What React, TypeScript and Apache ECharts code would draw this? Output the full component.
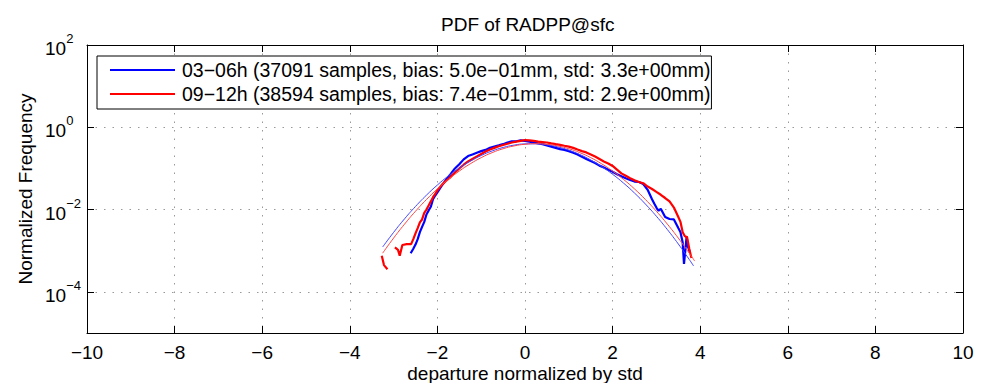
import React, { useEffect, useRef } from 'react';
import * as echarts from 'echarts';

const FONT = '"Liberation Sans", Arial, Helvetica, sans-serif';
const TITLE = 'PDF of RADPP@sfc';
const X_NAME = 'departure normalized by std';
const Y_NAME = 'Normalized Frequency';
const SERIES_NAMES = [
  '03−06h (37091 samples, bias: 5.0e−01mm, std: 3.3e+00mm)',
  '09−12h (38594 samples, bias: 7.4e−01mm, std: 2.9e+00mm)',
];
const Y_TICKS = [1e-4, 1e-2, 1, 100];

// 03-06h empirical PDF
const blueX = [
  -2.61, -2.55, -2.5, -2.45, -2.4, -2.35, -2.3, -2.25, -2.2, -2.15, -2.1, -2.05, -2.0,
  -1.9, -1.8, -1.7, -1.6, -1.5, -1.4, -1.3, -1.2, -1.1, -1.0, -0.9, -0.8, -0.7, -0.6,
  -0.5, -0.4, -0.3, -0.2, -0.1, 0.0, 0.1, 0.2, 0.3, 0.4, 0.5, 0.6, 0.7, 0.8, 0.9, 1.0,
  1.1, 1.2, 1.3, 1.4, 1.5, 1.6, 1.7, 1.8, 1.9, 2.0, 2.1, 2.2, 2.3, 2.4, 2.5, 2.6, 2.7,
  2.8, 2.9, 2.95, 3.0, 3.05, 3.1, 3.2, 3.3, 3.4, 3.5, 3.55, 3.6, 3.63, 3.66, 3.69, 3.72, 3.77,
];
const blueY = [
  8.71e-4, 1.12e-3, 1.41e-3, 1.91e-3, 2.82e-3, 3.8e-3, 5.01e-3, 7.59e-3, 9.55e-3, 1.17e-2, 1.78e-2, 2.19e-2, 2.63e-2,
  3.8e-2, 5.37e-2, 7.24e-2, 0.1, 0.126, 0.166, 0.2, 0.219, 0.24, 0.263, 0.282, 0.316, 0.339, 0.363,
  0.389, 0.427, 0.457, 0.457, 0.479, 0.468, 0.447, 0.427, 0.407, 0.389, 0.363, 0.339, 0.316, 0.295, 0.282, 0.263,
  0.24, 0.219, 0.191, 0.17, 0.151, 0.135, 0.117, 0.105, 0.0933, 0.0832, 0.0724, 0.0646, 0.0575, 0.0525, 0.0479, 0.0468, 0.0417,
  0.0302, 0.0178, 0.0141, 0.0112, 0.00933, 0.0105, 0.00661, 0.00589, 0.00575, 0.00355, 0.00282, 0.00158, 0.000479, 0.001, 0.00224, 0.00126, 0.000891,
];

// 09-12h empirical PDF (null = empty bin)
const redX = [
  -3.27, -3.22, -3.14, -3.05, -2.97, -2.9, -2.86, -2.8, -2.7, -2.6, -2.55, -2.5, -2.45, -2.4, -2.35,
  -2.3, -2.25, -2.2, -2.15, -2.1, -2.05, -2.0, -1.9, -1.8, -1.7, -1.6, -1.5, -1.4, -1.3, -1.2,
  -1.1, -1.0, -0.9, -0.8, -0.7, -0.6, -0.5, -0.4, -0.3, -0.2, -0.1, 0.0, 0.1, 0.2, 0.3, 0.4,
  0.5, 0.6, 0.7, 0.8, 0.9, 1.0, 1.1, 1.2, 1.3, 1.4, 1.5, 1.6, 1.7, 1.8, 1.9, 2.0, 2.1, 2.2,
  2.3, 2.4, 2.5, 2.6, 2.7, 2.8, 2.9, 3.0, 3.1, 3.2, 3.3, 3.4, 3.5, 3.55, 3.6, 3.65, 3.7, 3.75, 3.8,
];
const redY = [
  7.59e-4, 4.47e-4, 3.55e-4, null, 1.2e-3, 1.05e-3, 7.59e-4, 1.38e-3, 1.45e-3, 1.45e-3, 1.91e-3, 2.63e-3, 3.55e-3, 4.9e-3, 5.75e-3,
  8.32e-3, 1.0e-2, 1.26e-2, 1.58e-2, 2.0e-2, 2.4e-2, 2.95e-2, 3.98e-2, 5.01e-2, 6.17e-2, 7.94e-2, 0.1, 0.123, 0.148, 0.17,
  0.195, 0.224, 0.257, 0.288, 0.316, 0.347, 0.372, 0.398, 0.427, 0.447, 0.468, 0.49, 0.479, 0.468, 0.447, 0.437,
  0.427, 0.407, 0.389, 0.372, 0.355, 0.339, 0.316, 0.288, 0.263, 0.245, 0.219, 0.195, 0.17, 0.148, 0.132, 0.115, 0.0933, 0.0759,
  0.0661, 0.0575, 0.0513, 0.0468, 0.0437, 0.0363, 0.0316, 0.0269, 0.0229, 0.0191, 0.0158, 0.0112, 0.00661, 0.00501, 0.00282, 0.00224, 0.00214, 0.00112, 0.000661,
];

// Gaussian fits
const blueFitX = [
  -3.25, -3.0, -2.75, -2.5, -2.25, -2.0, -1.75, -1.5, -1.25, -1.0, -0.75, -0.5, -0.25, 0.0, 0.25,
  0.5, 0.75, 1.0, 1.25, 1.5, 1.75, 2.0, 2.25, 2.5, 2.75, 3.0, 3.25, 3.5, 3.75, 3.85,
];
const blueFitY = [
  1.233e-3, 2.79e-3, 5.96e-3, 1.191e-2, 2.239e-2, 3.955e-2, 6.56e-2, 0.1023, 0.1497, 0.2061, 0.2661, 0.323, 0.3683, 0.3945, 0.397,
  0.3754, 0.3334, 0.278, 0.2179, 0.1604, 0.111, 0.0721, 0.044, 0.02523, 0.01359, 6.88e-3, 3.27e-3, 1.459e-3, 6.12e-4, 4.25e-4,
];
const redFitX = [
  -3.25, -3.0, -2.75, -2.5, -2.25, -2.0, -1.75, -1.5, -1.25, -1.0, -0.75, -0.5, -0.25, 0.0, 0.25,
  0.5, 0.75, 1.0, 1.25, 1.5, 1.75, 2.0, 2.25, 2.5, 2.75, 3.0, 3.25, 3.5, 3.75, 3.875,
];
const redFitY = [
  8.73e-4, 2.03e-3, 4.43e-3, 9.1e-3, 1.754e-2, 3.177e-2, 5.4e-2, 8.63e-2, 0.1295, 0.1828, 0.2421, 0.3013, 0.3524, 0.3866, 0.399,
  0.3866, 0.3524, 0.3013, 0.2421, 0.1828, 0.1295, 0.0863, 0.054, 0.03177, 0.01754, 9.1e-3, 4.43e-3, 2.03e-3, 8.73e-4, 5.6e-4,
];

const pairs = (xs: number[], ys: (number | null)[]) =>
  xs.map((x, i) => (ys[i] == null ? [x, '-'] : [x, ys[i]]));

const minus = (s: string) => s.replace('-', '−');

export default function App() {
  const ref = useRef<HTMLDivElement>(null);
  useEffect(() => {
    if (!ref.current) return;
    document.body.style.margin = '0';
    const chart = echarts.init(ref.current, null, { renderer: 'svg' });
    const axisLine = { show: true, onZero: false, lineStyle: { color: '#000', width: 1 } };
    const tick = { show: true, inside: true, length: 7, lineStyle: { color: '#000', width: 1 } };
    const grid = { show: true, lineStyle: { color: '#999', width: 1, type: [1.5, 7] } };
    chart.setOption({
      animation: false,
      backgroundColor: '#fff',
      textStyle: { fontFamily: FONT },
      title: {
        text: TITLE,
        left: 436,
        top: 10,
        textStyle: { fontFamily: FONT, fontSize: 19, fontWeight: 'normal', color: '#000' },
      },
      grid: { left: 87, right: 30, top: 45, bottom: 50, containLabel: false, outerBoundsMode: 'none' },
      legend: {
        data: SERIES_NAMES.map((n) => ({ name: n, icon: 'rect' })),
        orient: 'vertical',
        left: 97,
        top: 56,
        padding: [3, 1, 4, 13],
        itemGap: 2,
        itemWidth: 65,
        itemHeight: 2,
        borderColor: '#000',
        borderWidth: 1,
        backgroundColor: '#fff',
        textStyle: { fontFamily: FONT, fontSize: 19.5, color: '#000', lineHeight: 22, padding: [0, 0, 0, 2] },
      },
      xAxis: [
        {
          type: 'value', min: -10, max: 10, interval: 2, position: 'bottom',
          axisLine, axisTick: tick, splitLine: grid,
          axisLabel: { margin: 11, fontFamily: FONT, fontSize: 19, lineHeight: 17, color: '#000', formatter: (v: number) => minus(String(v)) },
          name: X_NAME, nameLocation: 'middle', nameGap: 31, nameMoveOverlap: false,
          nameTextStyle: { fontFamily: FONT, fontSize: 19, color: '#000', lineHeight: 18 },
        },
        {
          type: 'value', min: -10, max: 10, interval: 2, position: 'top',
          axisLine, axisTick: tick, splitLine: { show: false }, axisLabel: { show: false },
        },
      ],
      yAxis: [
        {
          type: 'log', logBase: 10, min: 1e-5, max: 100, position: 'left',
          axisLine,
          axisTick: { ...tick, customValues: Y_TICKS },
          splitLine: grid,
          axisLabel: {
            customValues: Y_TICKS,
            align: 'left',
            margin: 42,
            formatter: (v: number) => {
              const e = Math.round(Math.log10(v));
              return '{b|10}{s|' + minus(String(e)) + '}';
            },
            rich: {
              b: { fontFamily: FONT, fontSize: 19, color: '#000', lineHeight: 26, verticalAlign: 'bottom' },
              s: { fontFamily: FONT, fontSize: 13, color: '#000', lineHeight: 26, verticalAlign: 'top' },
            },
          },
          name: Y_NAME, nameLocation: 'middle', nameGap: 52, nameMoveOverlap: false,
          nameTextStyle: { fontFamily: FONT, fontSize: 19, color: '#000' },
        },
        {
          type: 'log', logBase: 10, min: 1e-5, max: 100, position: 'right',
          axisLine,
          axisTick: { ...tick, customValues: Y_TICKS },
          splitLine: { show: false },
          axisLabel: { show: false },
        },
      ],
      series: [
        {
          name: SERIES_NAMES[0], type: 'line', data: pairs(blueX, blueY), symbol: 'none',
          lineStyle: { color: '#0000ff', width: 2.2 }, itemStyle: { color: '#0000ff' },
        },
        {
          name: SERIES_NAMES[1], type: 'line', data: pairs(redX, redY), symbol: 'none',
          lineStyle: { color: '#ff0000', width: 2.2 }, itemStyle: { color: '#ff0000' },
        },
        {
          name: 'fit 03-06h', type: 'line', data: pairs(blueFitX, blueFitY), symbol: 'none', smooth: true,
          lineStyle: { color: '#4444ff', width: 1 }, itemStyle: { color: '#4444ff' },
        },
        {
          name: 'fit 09-12h', type: 'line', data: pairs(redFitX, redFitY), symbol: 'none', smooth: true,
          lineStyle: { color: '#ff4444', width: 1 }, itemStyle: { color: '#ff4444' },
        },
      ],
    });
    return () => chart.dispose();
  }, []);
  return <div ref={ref} style={{ width: 993, height: 383 }} />;
}
